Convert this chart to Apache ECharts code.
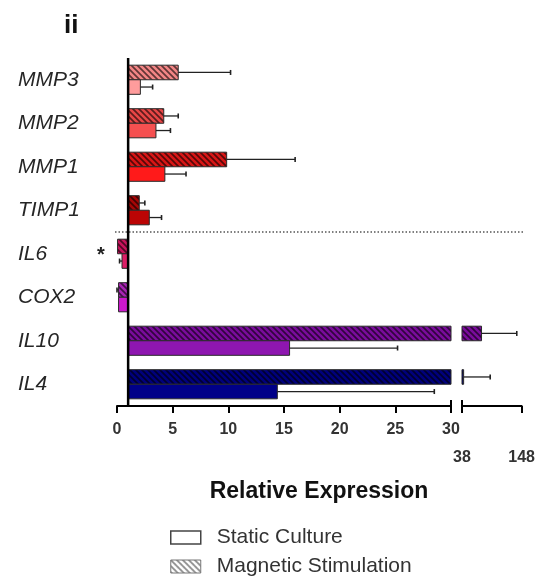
<!DOCTYPE html>
<html><head><meta charset="utf-8">
<script src="https://cdn.jsdelivr.net/npm/echarts@6/dist/echarts.min.js"></script>
<style>html,body{margin:0;padding:0;background:#fff}#c{width:538px;height:580px}</style>
</head><body><div id="c"></div>
<script>
// ---- data ----
const categories   = ['MMP3','MMP2','MMP1','TIMP1','IL6','COX2','IL10','IL4'];
const magneticMean = [5.5, 4.2, 9.85, 2.0, 0.05, 0.14, 74, 41];
const magneticSD   = [4.7, 1.3, 6.15, 0.5, 0, 0.14, 65, 49];
const staticMean   = [2.1, 3.5, 4.3, 2.9, 0.45, 0.14, 15.5, 14.4];
const staticSD     = [1.1, 1.3, 1.9, 1.1, 0.22, 0, 9.7, 14.1];
const lowRange  = [0, 30];
const highRange = [38, 148];
const baseline = 1;
const significant = ['IL6'];

// ---- styles ----
const magneticColors = ['#f28585','#e84646','#d81616','#a60606','#c8145c','#a824b4','#7a0c9c','#00007c'];
const staticColors   = ['#ff9c9c','#f55050','#ff1a1a','#bb0404','#dc1e66','#cc18cc','#8e16b0','#000088'];
const FONT = 'Liberation Sans';

function hatch(color, lineColor) {
  const c = document.createElement('canvas');
  c.width = 6; c.height = 6;
  const g = c.getContext('2d');
  g.fillStyle = color; g.fillRect(0, 0, 6, 6);
  g.strokeStyle = lineColor; g.lineWidth = 1.7;
  g.beginPath();
  for (let k = -1; k <= 1; k++) { g.moveTo(k * 6 - 1, -1); g.lineTo(k * 6 + 7, 7); }
  g.stroke();
  return { type: 'pattern', image: c, repeat: 'repeat' };
}
const magneticPatterns = magneticColors.map(c => hatch(c, 'rgba(0,0,0,0.6)'));
const legendHatch = hatch('#ffffff', '#8a8a8a');

function makeRender(isMag, seg) {
  return function (params, api) {
    const i = api.value(0), m = api.value(1), sd = api.value(2);
    const lo = seg ? highRange[0] : lowRange[0];
    const hi = seg ? highRange[1] : lowRange[1];
    const band = api.size([0, 1])[1];
    const h = band * 0.335;
    const yc = api.coord([lo, i])[1];
    const top = isMag ? yc - h : yc;
    let start, end;
    if (seg === 0) { start = baseline; end = Math.min(m, hi); }
    else { if (m <= lo) return null; start = lo; end = m; }
    const xs = api.coord([start, i])[0], xe = api.coord([end, i])[0];
    const children = [{
      type: 'rect',
      shape: { x: Math.min(xs, xe), y: top, width: Math.abs(xe - xs), height: h },
      style: { fill: isMag ? magneticPatterns[i] : staticColors[i], stroke: '#2a2a2a', lineWidth: 1 }
    }];
    const inSeg = seg === 0 ? m <= hi : true;
    if (sd > 0 && inSeg) {
      const ev = m >= baseline ? m + sd : m - sd;
      const xerr = api.coord([Math.max(lo, Math.min(hi, ev)), i])[0];
      const ym = top + h / 2;
      children.push({ type: 'line', shape: { x1: xe, y1: ym, x2: xerr, y2: ym }, style: { stroke: '#222', lineWidth: 1.3 } });
      children.push({ type: 'line', shape: { x1: xerr, y1: ym - 2.5, x2: xerr, y2: ym + 2.5 }, style: { stroke: '#222', lineWidth: 1.6 } });
    }
    return { type: 'group', children };
  };
}

function decoRender(seg) {
  return function (params, api) {
    const band = api.size([0, 1])[1];
    const lo = seg ? highRange[0] : lowRange[0];
    const hi = seg ? highRange[1] : lowRange[1];
    const yDiv = (api.coord([lo, 3])[1] + api.coord([lo, 4])[1]) / 2;
    const yAx = api.coord([lo, categories.length - 1])[1] + band / 2;
    const yTop = api.coord([lo, 0])[1] - band / 2;
    const xLo = api.coord([lo, 0])[0], xHi = api.coord([hi, 0])[0];
    const ch = [];
    if (seg === 0) {
      ch.push({ type: 'line', shape: { x1: xLo - 2, y1: yDiv, x2: xHi + 12, y2: yDiv }, style: { stroke: '#555', lineWidth: 1.3, lineDash: [1.5, 2] } });
      ch.push({ type: 'line', shape: { x1: xHi, y1: yAx - 6, x2: xHi, y2: yAx }, style: { stroke: '#000', lineWidth: 2 } });
      const xb = api.coord([baseline, 0])[0];
      ch.push({ type: 'line', shape: { x1: xb, y1: yTop, x2: xb, y2: yAx }, style: { stroke: '#000', lineWidth: 2.5 } });
      significant.forEach(name => {
        const k = categories.indexOf(name);
        const p = api.coord([lo, k]);
        ch.push({ type: 'text', x: p[0] - 16, y: p[1] + 2, style: { text: '*', font: 'bold 20px ' + FONT, fill: '#222', align: 'center', verticalAlign: 'middle' } });
      });
    } else {
      ch.push({ type: 'line', shape: { x1: xLo, y1: yDiv, x2: xHi + 3, y2: yDiv }, style: { stroke: '#555', lineWidth: 1.3, lineDash: [1.5, 2] } });
      ch.push({ type: 'line', shape: { x1: xLo, y1: yAx - 6, x2: xLo, y2: yAx }, style: { stroke: '#000', lineWidth: 2 } });
    }
    return { type: 'group', children: ch };
  };
}

const magData = categories.map((c, i) => [i, magneticMean[i], magneticSD[i]]);
const staData = categories.map((c, i) => [i, staticMean[i], staticSD[i]]);

const xAxisCommon = {
  type: 'value',
  splitLine: { show: false },
  axisLine: { show: true, lineStyle: { color: '#000', width: 2 } },
  axisTick: { show: true, length: 7, lineStyle: { color: '#000', width: 2 } },
  axisLabel: { fontSize: 16, fontWeight: 'bold', color: '#333', fontFamily: FONT }
};

const chart = echarts.init(document.getElementById('c'), null, { renderer: 'canvas' });
chart.setOption({
  animation: false,
  backgroundColor: '#fff',
  textStyle: { fontFamily: FONT },
  title: { text: 'ii', left: 59, top: 8, textStyle: { fontSize: 26, fontWeight: 'bold', color: '#111', fontFamily: FONT } },
  grid: [
    { left: 117, width: 334, top: 58, height: 348 },
    { left: 462, width: 61, top: 58, height: 348 }
  ],
  xAxis: [
    Object.assign({}, xAxisCommon, { gridIndex: 0, min: lowRange[0], max: lowRange[1], interval: 5,
      axisLabel: Object.assign({}, xAxisCommon.axisLabel, { margin: 16 }) }),
    Object.assign({}, xAxisCommon, { gridIndex: 1, min: highRange[0], max: highRange[1], interval: highRange[1] - highRange[0],
      axisLabel: Object.assign({}, xAxisCommon.axisLabel, { margin: 44 }) })
  ],
  yAxis: [
    { gridIndex: 0, type: 'category', data: categories, inverse: true,
      axisLine: { show: false }, axisTick: { show: false }, splitLine: { show: false },
      axisLabel: { fontStyle: 'italic', fontSize: 21, color: '#262626', align: 'left', margin: 99, fontFamily: FONT } },
    { gridIndex: 1, type: 'category', data: categories, inverse: true, show: false }
  ],
  legend: {
    orient: 'vertical', left: 170, top: 527, itemWidth: 30, itemHeight: 13, itemGap: 8,
    selectedMode: false, padding: 0,
    textStyle: { fontSize: 21, color: '#333', fontFamily: FONT, padding: [0, 0, 0, 11] },
    data: [
      { name: 'Static Culture', icon: 'rect', itemStyle: { color: '#fff', borderColor: '#444', borderWidth: 1.5 } },
      { name: 'Magnetic Stimulation', icon: 'rect', itemStyle: { color: legendHatch, borderColor: '#777', borderWidth: 1 } }
    ]
  },
  graphic: [
    { type: 'text', x: 319, y: 492, style: { text: 'Relative Expression', font: 'bold 23px ' + FONT, fill: '#111', align: 'center', verticalAlign: 'middle' } }
  ],
  series: [
    { name: 'Magnetic Stimulation', type: 'custom', xAxisIndex: 0, yAxisIndex: 0, data: magData, encode: { x: 1, y: 0 }, renderItem: makeRender(true, 0), itemStyle: { color: '#888' } },
    { name: 'Static Culture', type: 'custom', xAxisIndex: 0, yAxisIndex: 0, data: staData, encode: { x: 1, y: 0 }, renderItem: makeRender(false, 0), itemStyle: { color: '#fff' } },
    { name: 'Magnetic Stimulation', type: 'custom', xAxisIndex: 1, yAxisIndex: 1, data: magData, encode: { x: 1, y: 0 }, renderItem: makeRender(true, 1) },
    { name: 'Static Culture', type: 'custom', xAxisIndex: 1, yAxisIndex: 1, data: staData, encode: { x: 1, y: 0 }, renderItem: makeRender(false, 1) },
    { name: 'deco0', type: 'custom', xAxisIndex: 0, yAxisIndex: 0, data: [[0, 0]], encode: { x: 1, y: 0 }, renderItem: decoRender(0), silent: true, z: 5 },
    { name: 'deco1', type: 'custom', xAxisIndex: 1, yAxisIndex: 1, data: [[0, 38]], encode: { x: 1, y: 0 }, renderItem: decoRender(1), silent: true, z: 5 }
  ]
});
</script>
</body></html>
